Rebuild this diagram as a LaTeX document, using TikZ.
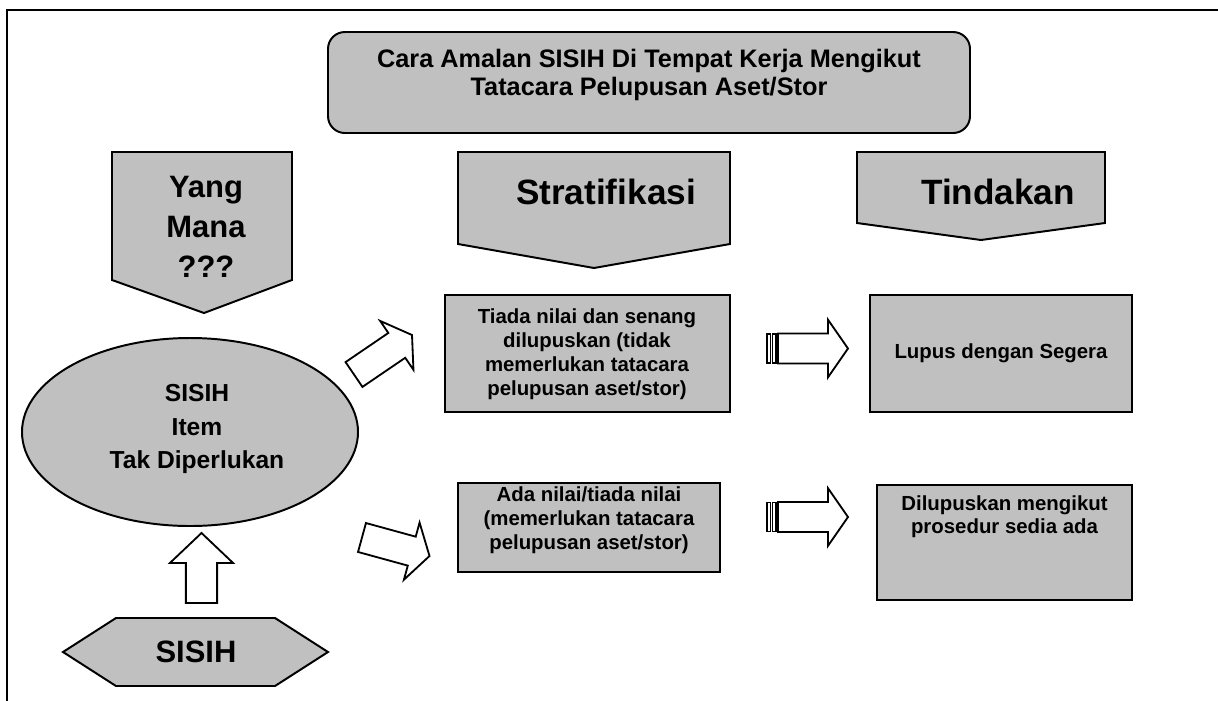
\documentclass[tikz,border=0pt]{standalone}
\usepackage{fontspec}
\setmainfont{Liberation Sans}
\usetikzlibrary{calc}
\definecolor{boxgray}{RGB}{192,192,192}

% hollow block arrow: tail, tip, half shaft, half head, head length
\newcommand{\hollowarrow}[5]{%
  \coordinate (hb) at ($(#2)!#5!(#1)$);
  \draw[arrowline] ($(#1)!#3!90:(#2)$) -- ($(hb)!#3!90:(#2)$) -- ($(hb)!#4!90:(#2)$) -- (#2)
    -- ($(hb)!#4!-90:(#2)$) -- ($(hb)!#3!-90:(#2)$) -- ($(#1)!#3!-90:(#2)$) -- cycle;
}

\begin{document}
\begin{tikzpicture}[x=0.025cm,y=-0.025cm,
  shapeline/.style={draw=black,line width=1.4pt,fill=boxgray,line join=miter},
  arrowline/.style={draw=black,line width=1.3pt,fill=white,line join=miter},
  headtext/.style={font=\bfseries\fontsize{25}{29}\selectfont,align=center,inner sep=0},
  asktext/.style={font=\bfseries\fontsize{22}{28.5}\selectfont,align=center,inner sep=0},
  titletext/.style={font=\bfseries\fontsize{18}{20}\selectfont,align=center,inner sep=0},
  itemtext/.style={font=\bfseries\fontsize{17.5}{24}\selectfont,align=center,inner sep=0},
  smalltext/.style={font=\bfseries\fontsize{14.5}{17}\selectfont,align=center,inner sep=0}]
\useasboundingbox (0,0) rectangle (1218,700);
\clip (0,0) rectangle (1218,700);
% -- frame
\draw[line width=2pt] (7,720) -- (7,10) -- (1240,10);
% -- title box
\draw[shapeline,rounded corners=12] (328,32) rectangle (970,133);
\node[titletext] (title) at (649,75) {Cara Amalan SISIH Di Tempat Kerja Mengikut\\Tatacara Pelupusan Aset/Stor};
% -- headers
\draw[shapeline] (112,152) -- (292,152) -- (292,280) -- (204,313) -- (112,280) -- cycle;
\node[asktext] (yang) at (206,227) {Yang\\Mana\\???};
\draw[shapeline] (458,152) -- (730,152) -- (730,244) -- (594,268) -- (458,244) -- cycle;
\node[headtext] (strat) at (606,192) {Stratifikasi};
\draw[shapeline] (857,152) -- (1105,152) -- (1105,223) -- (981,240) -- (857,223) -- cycle;
\node[headtext] (tind) at (998,192) {Tindakan};
% -- sisih
\draw[shapeline] (190,432) ellipse (168 and 94);
\node[itemtext] (item) at (197,429) {SISIH\\Item\\Tak Diperlukan};
\draw[shapeline] (63,652) -- (116,618) -- (275,618) -- (328,652) -- (275,686) -- (116,686) -- cycle;
\node[asktext] (sisih) at (196,652) {SISIH};
% -- boxes
\draw[shapeline] (445,295) rectangle (730,412);
\node[smalltext] (tiada) at (587,354) {Tiada nilai dan senang\\dilupuskan (tidak\\memerlukan tatacara\\pelupusan aset/stor)};
\draw[shapeline] (870,295) rectangle (1132,412);
\node[smalltext] (lupus) at (1001,353.5) {Lupus dengan Segera};
\draw[shapeline] (458,483) rectangle (720,572);
\node[smalltext] (ada) at (589,520) {Ada nilai/tiada nilai\\(memerlukan tatacara\\pelupusan aset/stor)};
\draw[shapeline] (877,485) rectangle (1132,600);
\node[smalltext,anchor=north] (dilupus) at (1004.5,495) {Dilupuskan mengikut\\prosedur sedia ada};
% -- arrows
\coordinate (a1) at (354,374.5); \coordinate (a1t) at (412,335);
\hollowarrow{a1}{a1t}{0.375cm}{0.74cm}{0.46cm}
\coordinate (a2) at (362,537.5); \coordinate (a2t) at (429.5,556);
\hollowarrow{a2}{a2t}{0.375cm}{0.74cm}{0.46cm}
\coordinate (a3) at (201.5,603); \coordinate (a3t) at (201.5,533);
\hollowarrow{a3}{a3t}{0.39cm}{0.79cm}{0.75cm}
% -- striped arrows
\foreach \yy in {348.5,517} {
  \draw[arrowline] (767,\yy-14.5) rectangle (770.5,\yy+14.5);
  \draw[arrowline] (772.5,\yy-14.5) rectangle (776,\yy+14.5);
  \coordinate (s1) at (778,\yy); \coordinate (s1t) at (848,\yy);
  \hollowarrow{s1}{s1t}{0.375cm}{0.72cm}{0.5cm}
}
\end{tikzpicture}
\end{document}
